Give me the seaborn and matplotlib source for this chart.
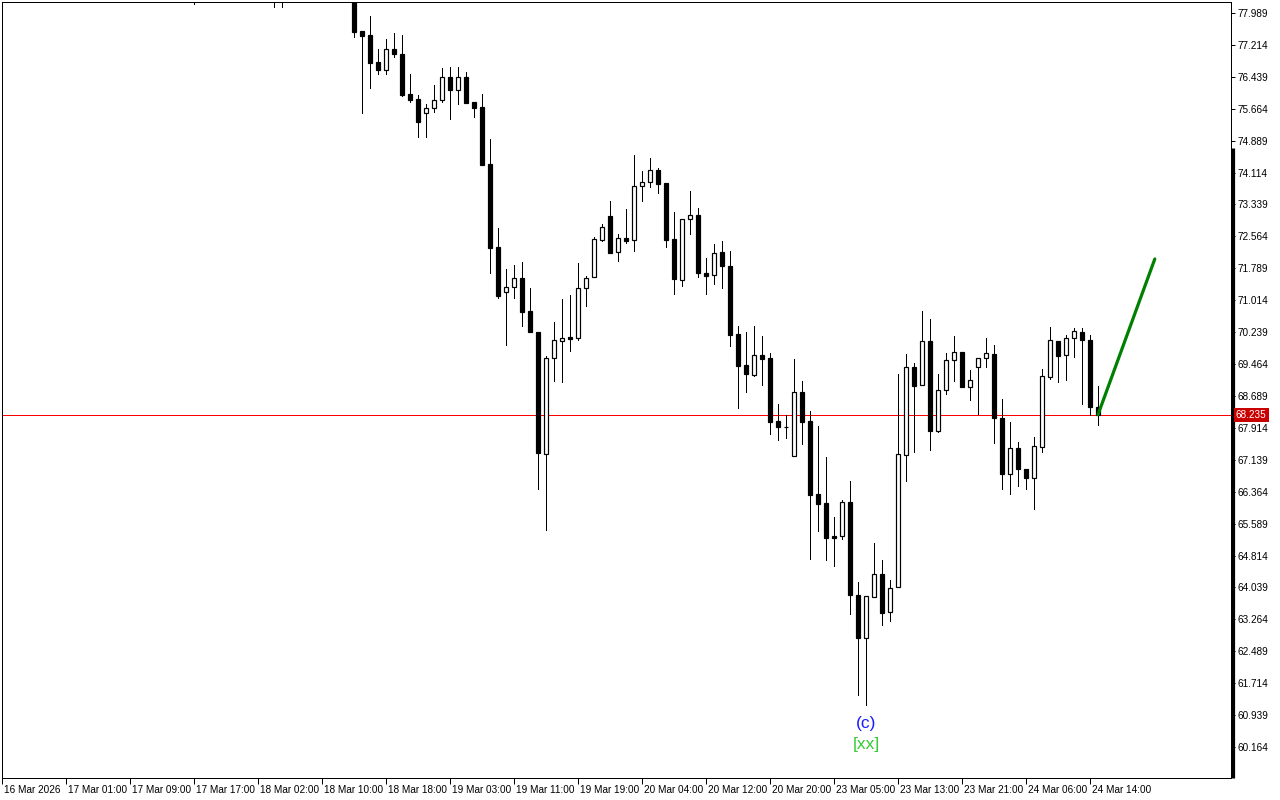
import matplotlib
matplotlib.use("Agg")
import matplotlib.pyplot as plt
import matplotlib.transforms as mtransforms
import seaborn as sns
import numpy as np
import pandas as pd

# ---------------- data ----------------
bar_index = [24, 34, 35, 44, 45, 46, 47, 48, 49, 50, 51, 52, 53, 54, 55, 56, 57, 58, 59,
             60, 61, 62, 63, 64, 65, 66, 67, 68, 69, 70, 71, 72, 73, 74, 75, 76, 77, 78, 79,
             80, 81, 82, 83, 84, 85, 86, 87, 88, 89, 90, 91, 92, 93, 94, 95, 96, 97, 98, 99,
             100, 101, 102, 103, 104, 105, 106, 107, 108, 109, 110, 111, 112, 113, 114, 115,
             116, 117, 118, 119, 120, 121, 122, 123, 124, 125, 126, 127, 128, 129, 130, 131,
             132, 133, 134, 135, 136, 137]
opens = [78.40, 78.45, 78.35, 78.40, 77.552, 77.455, 76.799, 76.598, 77.115, 76.993, 76.015,
         75.893, 75.553, 75.675, 75.869, 76.428, 76.126, 76.428, 75.820,
         75.699, 74.315, 72.299, 71.206, 71.328, 71.554, 70.752, 70.235, 67.272, 69.603,
         70.016, 70.121, 70.104, 71.303, 71.571, 72.476, 73.059, 72.178, 72.518, 72.469,
         73.776, 73.878, 74.176, 73.861, 72.501, 71.512, 72.979, 73.076, 71.675, 71.619,
         72.178, 71.845, 70.194, 69.441, 69.203, 69.684, 69.606, 68.076, 67.930, 67.223,
         68.778, 68.081, 66.308, 66.089, 65.288, 65.288, 66.114, 63.855, 62.818, 63.814,
         64.365, 63.435, 64.057, 67.248, 69.392, 68.948, 70.016, 67.845, 68.826, 69.569,
         69.749, 68.899, 69.385, 69.603, 69.708, 68.154, 66.786, 67.418, 66.908, 66.689,
         67.442, 69.142, 70.016, 69.676, 70.089, 70.235, 70.041, 68.413]
highs = [78.55, 78.60, 78.50, 78.50, 77.552, 77.923, 77.115, 77.350, 77.503, 77.455, 76.508,
         75.998, 75.779, 76.241, 76.653, 76.678, 76.678, 76.556, 75.820,
         76.022, 74.922, 72.768, 71.772, 71.869, 71.942, 71.311, 70.235, 69.659, 70.485,
         71.044, 71.141, 71.918, 71.602, 72.556, 72.865, 73.423, 72.615, 73.229, 74.541,
         74.152, 74.468, 74.225, 73.861, 73.156, 72.979, 73.666, 73.253, 72.039, 72.379,
         72.452, 72.209, 70.388, 70.242, 70.388, 70.145, 69.732, 68.494, 68.226, 69.586,
         69.045, 68.324, 67.952, 67.207, 65.742, 66.162, 66.624, 64.178, 63.831, 65.125,
         64.705, 64.219, 69.222, 69.708, 69.497, 70.752, 70.558, 69.222, 69.732, 70.145,
         69.749, 69.319, 69.603, 70.096, 69.926, 68.615, 68.049, 67.563, 66.908, 67.699,
         69.336, 70.364, 70.016, 70.162, 70.332, 70.332, 70.162, 68.923]
lows = [78.208, 78.135, 78.135, 77.413, 75.561, 76.175, 76.515, 76.515, 76.913, 75.973, 75.835,
        74.985, 74.985, 75.592, 75.835, 75.422, 75.786, 75.811, 75.471,
        74.305, 71.668, 71.061, 69.926, 71.061, 70.395, 70.249, 66.437, 65.434, 69.059,
        69.028, 69.788, 70.048, 70.881, 71.571, 72.459, 72.168, 71.974, 72.411, 72.209,
        73.431, 73.771, 73.606, 72.314, 71.172, 71.367, 72.629, 71.585, 71.172, 71.415,
        71.318, 69.909, 68.404, 68.792, 69.181, 68.962, 67.772, 67.627, 67.675, 67.223,
        67.530, 64.737, 65.417, 64.712, 64.567, 65.208, 63.401, 61.434, 61.177, 63.814,
        63.134, 63.231, 64.057, 66.624, 67.335, 68.948, 67.384, 67.821, 68.744, 69.059,
        68.914, 68.598, 68.243, 69.399, 67.554, 66.437, 66.315, 66.510, 66.437, 65.951,
        67.335, 69.093, 69.021, 69.069, 69.628, 68.501, 68.219, 67.976]
closes = [78.30, 78.35, 78.45, 77.535, 77.438, 76.768, 76.598, 77.107, 76.986, 75.998, 75.884,
          75.349, 75.675, 75.869, 76.428, 76.126, 76.428, 75.811, 75.689,
          74.305, 72.289, 71.124, 71.328, 71.546, 70.735, 70.249, 67.311, 69.603, 70.041,
          70.089, 70.079, 71.303, 71.554, 72.493, 72.792, 72.168, 72.518, 72.459, 73.780,
          73.878, 74.169, 73.844, 72.476, 71.537, 72.979, 73.076, 71.682, 71.609, 72.153,
          71.833, 70.177, 69.424, 69.229, 69.679, 69.594, 68.064, 67.923, 67.926, 68.778,
          68.064, 66.291, 66.072, 65.247, 65.247, 66.114, 63.862, 62.818, 63.831, 64.365,
          63.425, 64.018, 67.272, 69.385, 68.938, 70.016, 67.845, 68.826, 69.555, 69.749,
          68.914, 69.069, 69.603, 69.725, 68.146, 66.786, 67.418, 66.908, 66.689, 67.466,
          69.166, 70.041, 69.652, 70.089, 70.259, 70.041, 68.428, 68.235]

time_tick_bars = [0, 8, 16, 24, 32, 40, 48, 56, 64, 72, 80, 88, 96, 104, 112, 120, 128, 136]
time_tick_labels = ["16 Mar 2026", "17 Mar 01:00", "17 Mar 09:00", "17 Mar 17:00",
                    "18 Mar 02:00", "18 Mar 10:00", "18 Mar 18:00", "19 Mar 03:00",
                    "19 Mar 11:00", "19 Mar 19:00", "20 Mar 04:00", "20 Mar 12:00",
                    "20 Mar 20:00", "23 Mar 05:00", "23 Mar 13:00", "23 Mar 21:00",
                    "24 Mar 06:00", "24 Mar 14:00"]
price_ticks = [60.164, 60.939, 61.714, 62.489, 63.264, 64.039, 64.814, 65.589, 66.364,
               67.139, 67.914, 68.689, 69.464, 70.239, 71.014, 71.789, 72.564, 73.339,
               74.114, 74.889, 75.664, 76.439, 77.214, 77.989]
current_price = 68.235
projection_bars = [137, 144.1]
projection_prices = [68.235, 72.015]
wave_bar = 108
wave_label = "(c)"
degree_label = "[xx]"

# ---------------- style ----------------
sns.set_theme(style="white")
plt.rcParams['font.family'] = ['Liberation Sans', 'DejaVu Sans']

df = pd.DataFrame({"bar": bar_index, "open": opens, "high": highs,
                   "low": lows, "close": closes})

W, H = 1280, 800
fig = plt.figure(figsize=(12.8, 8), dpi=100)
fig.patch.set_facecolor("white")
ax = fig.add_axes([2 / W, 22 / H, 1229 / W, 776 / H])
ax.set_facecolor("white")

px = 0.72  # one pixel in points

# wicks
ax.vlines(df["bar"], df["low"], df["high"], color="black", linewidth=0.8 * px,
          zorder=2, antialiased=False)
# bodies
up = df["close"] >= df["open"]
bottoms = np.minimum(df["open"], df["close"])
heights = np.maximum(np.abs(df["close"] - df["open"]), 0.004)
ax.bar(df["bar"][up], heights[up], bottom=bottoms[up], width=0.5,
       color="white", edgecolor="black", linewidth=1.2 * px, zorder=3)
ax.bar(df["bar"][~up], heights[~up], bottom=bottoms[~up], width=0.5,
       color="black", edgecolor="black", linewidth=1.2 * px, zorder=3)

# current price line
ax.axhline(current_price, color="#ff0000", linewidth=0.8 * px, zorder=1.5,
           antialiased=False)

# projection line
sns.lineplot(x=projection_bars, y=projection_prices, color="#008000",
             linewidth=3.2 * px, ax=ax, zorder=4)

# wave labels
low_wave = df.loc[df["bar"] == wave_bar, "low"].iloc[0]
ax.annotate(wave_label, xy=(wave_bar, low_wave), xytext=(0, -18),
            textcoords="offset pixels", ha="center", va="center",
            color="#1a1aff", fontsize=12.5)
ax.annotate(degree_label, xy=(wave_bar, low_wave), xytext=(0, -39),
            textcoords="offset pixels", ha="center", va="center",
            color="#33cc33", fontsize=12.5)

# limits
ax.set_xlim(0, 153.625)
ax.set_ylim(59.411, 78.256)

# axes / spines
for s in ax.spines.values():
    s.set_color("black")
    s.set_linewidth(1.0 * px)
    s.set_visible(True)

ax.yaxis.tick_right()
ax.set_yticks(price_ticks)
ax.set_yticklabels([f"{v:.3f}" for v in price_ticks])
ax.tick_params(axis="y", which="major", direction="out", length=4 * px,
               width=1.0 * px, color="black", labelsize=7.2, pad=1.5,
               labelcolor="black", right=True, left=False)

ax.set_xticks(time_tick_bars)
ax.set_xticklabels(time_tick_labels)
ax.tick_params(axis="x", which="major", direction="out", length=6 * px,
               width=1.0 * px, color="black", labelsize=7.2, pad=0.5,
               labelcolor="black", bottom=True)
offset = mtransforms.ScaledTranslation(2 / 100, 0, fig.dpi_scale_trans)
for lbl in ax.get_xticklabels():
    lbl.set_horizontalalignment("left")
    lbl.set_transform(lbl.get_transform() + offset)

ax.grid(False)

# thick scale bar on right side
trans_r = mtransforms.blended_transform_factory(ax.transAxes, ax.transAxes)
ax.plot([1 + 1.5 / 1229, 1 + 1.5 / 1229], [0, (778 - 148) / 776], transform=trans_r,
        color="black", linewidth=3.2 * px, clip_on=False, zorder=5,
        solid_capstyle="butt")

# current price label box
trans_p = mtransforms.blended_transform_factory(ax.transAxes, ax.transData)
ax.annotate(f"{current_price:.3f}", xy=(1, current_price), xycoords=trans_p,
            xytext=(5, 0), textcoords="offset pixels", ha="left", va="center",
            color="white", fontsize=7.2, annotation_clip=False, zorder=6,
            bbox=dict(boxstyle="square,pad=0.2", fc="#c80000", ec="none"))

fig.savefig("out.png", dpi=100, facecolor="white")
